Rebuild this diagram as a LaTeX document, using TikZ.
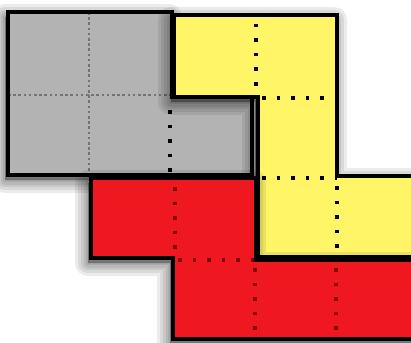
\documentclass[tikz,border=0pt]{standalone}
\usetikzlibrary{calc}
\definecolor{tilegray}{RGB}{179,179,179}
\definecolor{tileyellow}{RGB}{255,245,102}
\definecolor{tilered}{RGB}{240,24,32}
\newcommand{\tileshadow}[1]{%
  \foreach \w in {26,20,14,9,4} {
    \draw[black, draw opacity=0.08, fill=black, fill opacity=0.08, line width=\w pt,
      line join=round, shift={(-3,5)}] #1;}}

\begin{document}
\begin{tikzpicture}[x=1pt, y=-1pt,
    tile/.style={draw=black, line width=3.6pt, line join=miter},
    gdots/.style={draw=black!55, line width=2.6pt, dash pattern=on 2.6pt off 2.6pt},
    kdots/.style={draw=black, line width=3.5pt, dash pattern=on 3.5pt off 11pt},
    rdots/.style={draw=red!50!black, line width=3.5pt, dash pattern=on 3.5pt off 11pt}]
    \useasboundingbox (0,0) rectangle (411,342);
    \clip (0,0) rectangle (411,342);
    \def\graypiece{(8,12) -- (172,12) -- (172,97) -- (252,97) -- (252,175) -- (8,175) -- cycle}
    \def\yellowpiece{(174,15) -- (337,15) -- (337,176) -- (430,176) -- (430,257) -- (258,257) -- (258,97) -- (174,97) -- cycle}
    \def\redpiece{(91,178) -- (256,178) -- (256,260) -- (430,260) -- (430,339) -- (173,339) -- (173,258) -- (91,258) -- cycle}
    % gray piece
    \tileshadow{\graypiece}
    \fill[tilegray] \graypiece;
    \draw[gdots] (89,12) -- (89,175);
    \draw[gdots] (8,95) -- (172,95);
    \draw[kdots] (170,110) -- (170,175);
    \draw[tile] \graypiece;
    % yellow piece
    \tileshadow{\yellowpiece}
    \fill[tileyellow] \yellowpiece;
    \draw[kdots] (256,24) -- (256,97);
    \draw[kdots] (262,98) -- (337,98);
    \draw[kdots] (262,178) -- (337,178);
    \draw[kdots] (337,186) -- (337,257);
    \draw[tile] \yellowpiece;
    % red piece
    \tileshadow{\redpiece}
    \fill[tilered] \redpiece;
    \draw[rdots] (175,187) -- (175,258);
    \draw[rdots] (178,260) -- (256,260);
    \draw[rdots] (255,268) -- (255,339);
    \draw[rdots] (336,268) -- (336,339);
    \draw[tile] \redpiece;
\end{tikzpicture}
\end{document}
